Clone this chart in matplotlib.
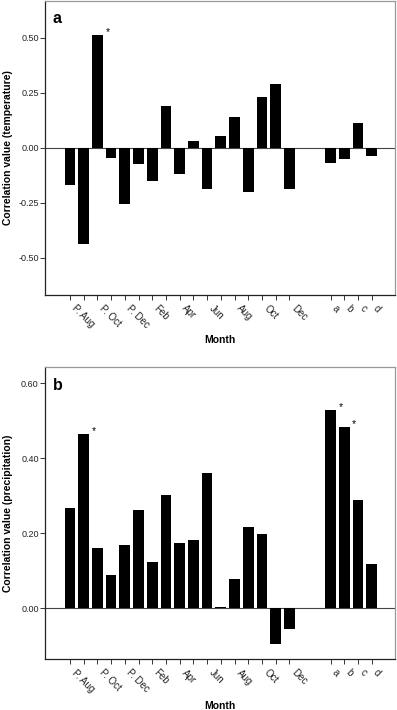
import numpy as np
from matplotlib import pyplot as plt

plt.rcParams["font.family"] = ["Liberation Sans", "DejaVu Sans"]

months = ["P. Aug", "P. Sep", "P. Oct", "P. Nov", "P. Dec", "Jan", "Feb", "Mar",
          "Apr", "May", "Jun", "Jul", "Aug", "Sep", "Oct", "Nov", "Dec"]
extra = ["a", "b", "c", "d"]

temp_corr = [-0.17, -0.44, 0.51, -0.045, -0.255, -0.075, -0.15, 0.19, -0.12,
             0.03, -0.19, 0.053, 0.138, -0.20, 0.23, 0.29, -0.19,
             -0.07, -0.05, 0.112, -0.04]
prec_corr = [0.268, 0.465, 0.16, 0.089, 0.169, 0.262, 0.123, 0.303, 0.175,
             0.181, 0.361, 0.003, 0.079, 0.217, 0.197, -0.095, -0.056,
             0.53, 0.483, 0.29, 0.117]

temp_signif = [2]
prec_signif = [1, 17, 18]

temp_ticks = [0.50, 0.25, 0.00, -0.25, -0.50]
prec_ticks = [0.00, 0.20, 0.40, 0.60]

# two empty slots between the months and the a-d group
x = np.r_[np.arange(len(months)), np.arange(len(extra)) + len(months) + 2]
labels = [m if i % 2 == 0 else "" for i, m in enumerate(months)] + extra


def panel(ax, values, signif, yticks, ylim, letter, ylabel):
    ax.bar(x, values, width=0.78, color="black", zorder=2)
    ax.axhline(0, color="#444444", lw=0.8, zorder=1)
    for i in signif:
        ax.annotate("*", (x[i], values[i]), xytext=(10, 0), textcoords="offset pixels",
                    ha="center", va="baseline", fontsize=7.5)
    ax.set_xlim(-1.82, 23.7)
    ax.set_ylim(*ylim)
    ax.set_yticks(yticks)
    ax.set_yticklabels([f"{t:.2f}" for t in yticks])
    ax.set_xticks(x)
    ax.set_xticklabels(labels, rotation=-45, ha="left", va="bottom", rotation_mode="anchor")
    ax.tick_params(axis="both", labelsize=6.5, labelcolor="#222222", direction="out",
                   length=3.6, width=0.7, color="#333333", pad=1)
    ax.tick_params(axis="x", pad=7.5, labelsize=7)
    for s in ("left", "bottom"):
        ax.spines[s].set_color("#222222")
        ax.spines[s].set_linewidth(0.9)
    for s in ("top", "right"):
        ax.spines[s].set_color("#999999")
        ax.spines[s].set_linewidth(0.9)
    ax.text(0.022, 0.965, letter, transform=ax.transAxes, fontsize=11.5,
            fontweight="bold", ha="left", va="top")
    ax.set_ylabel(ylabel, fontsize=7.5, fontweight="bold")
    ax.set_xlabel("Month", fontsize=7.5, fontweight="bold")


def main():
    fig = plt.figure(figsize=(3.97, 7.10), dpi=100)
    ax1 = fig.add_axes([0.1134, 0.5845, 0.8816, 0.4145])
    ax2 = fig.add_axes([0.1134, 0.0714, 0.8816, 0.4113])

    panel(ax1, temp_corr, temp_signif, temp_ticks, (-0.67, 0.668), "a",
          "Correlation value (temperature)")
    panel(ax2, prec_corr, prec_signif, prec_ticks, (-0.136, 0.643), "b",
          "Correlation value (precipitation)")

    ax1.yaxis.set_label_coords(-0.091, 0.5)
    ax2.yaxis.set_label_coords(-0.091, 0.5)
    ax1.xaxis.set_label_coords(0.5, -0.137)
    ax2.xaxis.set_label_coords(0.5, -0.143)

    fig.savefig("out.png", dpi=100)
    plt.close(fig)


if __name__ == "__main__":
    main()
